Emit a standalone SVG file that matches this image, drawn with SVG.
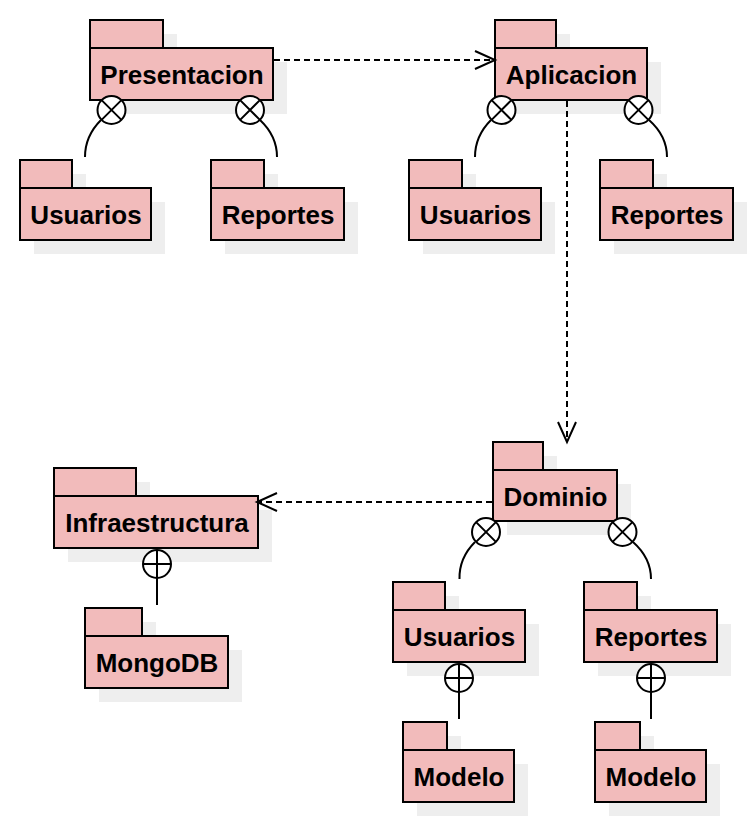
<svg xmlns="http://www.w3.org/2000/svg" width="754" height="822" viewBox="0 0 754 822">
<style>
.sh{fill:#eeeeee;stroke:none}
.pk{fill:#f2bbbb;stroke:#000;stroke-width:2}
.lb{font-family:"Liberation Sans",Arial,sans-serif;font-weight:bold;font-size:26px;text-anchor:middle;fill:#000}
.dep{fill:none;stroke:#000;stroke-width:2;stroke-dasharray:6 4}
.ln{fill:none;stroke:#000;stroke-width:2}
.cir{fill:#fff;stroke:#000;stroke-width:2}
</style>
<defs>
<marker id="open" markerUnits="userSpaceOnUse" markerWidth="24" markerHeight="20" refX="20" refY="9" orient="auto" overflow="visible">
<path d="M0,0 L20,9 L0,18" fill="none" stroke="#000" stroke-width="2"/>
</marker>
</defs>
<rect width="754" height="822" fill="#fff"/>

<g id="presentacion">
<rect class="sh" x="104" y="34" width="73" height="28"/><rect class="sh" x="104" y="62" width="183" height="52"/>
<rect class="pk" x="90" y="20" width="73" height="28"/><rect class="pk" x="90" y="48" width="183" height="52"/>
<text class="lb" x="182" y="84">Presentacion</text>
</g>
<g id="p-usuarios">
<rect class="sh" x="34" y="174" width="52" height="28"/><rect class="sh" x="34" y="202" width="131" height="52"/>
<rect class="pk" x="20" y="160" width="52" height="28"/><rect class="pk" x="20" y="188" width="131" height="52"/>
<text class="lb" x="86" y="224">Usuarios</text>
</g>
<g id="p-reportes">
<rect class="sh" x="225" y="174" width="53" height="28"/><rect class="sh" x="225" y="202" width="133" height="52"/>
<rect class="pk" x="211" y="160" width="53" height="28"/><rect class="pk" x="211" y="188" width="133" height="52"/>
<text class="lb" x="278" y="224">Reportes</text>
</g>
<g id="aplicacion">
<rect class="sh" x="509" y="34" width="61" height="28"/><rect class="sh" x="509" y="62" width="152" height="52"/>
<rect class="pk" x="495" y="20" width="61" height="28"/><rect class="pk" x="495" y="48" width="152" height="52"/>
<text class="lb" x="571.5" y="84">Aplicacion</text>
</g>
<g id="a-usuarios">
<rect class="sh" x="423" y="174" width="53" height="28"/><rect class="sh" x="423" y="202" width="132" height="52"/>
<rect class="pk" x="409" y="160" width="53" height="28"/><rect class="pk" x="409" y="188" width="132" height="52"/>
<text class="lb" x="475.5" y="224">Usuarios</text>
</g>
<g id="a-reportes">
<rect class="sh" x="614" y="174" width="53" height="28"/><rect class="sh" x="614" y="202" width="133" height="52"/>
<rect class="pk" x="600" y="160" width="53" height="28"/><rect class="pk" x="600" y="188" width="133" height="52"/>
<text class="lb" x="667" y="224">Reportes</text>
</g>
<g id="dominio">
<rect class="sh" x="507" y="456" width="50" height="28"/><rect class="sh" x="507" y="484" width="124" height="51"/>
<rect class="pk" x="493" y="442" width="50" height="28"/><rect class="pk" x="493" y="470" width="124" height="51"/>
<text class="lb" x="555.5" y="506">Dominio</text>
</g>
<g id="d-usuarios">
<rect class="sh" x="407" y="596" width="52" height="28"/><rect class="sh" x="407" y="624" width="132" height="52"/>
<rect class="pk" x="393" y="582" width="52" height="28"/><rect class="pk" x="393" y="610" width="132" height="52"/>
<text class="lb" x="459.5" y="646">Usuarios</text>
</g>
<g id="d-reportes">
<rect class="sh" x="598" y="596" width="53" height="28"/><rect class="sh" x="598" y="624" width="133" height="52"/>
<rect class="pk" x="584" y="582" width="53" height="28"/><rect class="pk" x="584" y="610" width="133" height="52"/>
<text class="lb" x="651" y="646">Reportes</text>
</g>
<g id="du-modelo">
<rect class="sh" x="417" y="736" width="44" height="28"/><rect class="sh" x="417" y="764" width="111" height="52"/>
<rect class="pk" x="403" y="722" width="44" height="28"/><rect class="pk" x="403" y="750" width="111" height="52"/>
<text class="lb" x="459" y="786">Modelo</text>
</g>
<g id="dr-modelo">
<rect class="sh" x="609" y="736" width="45" height="28"/><rect class="sh" x="609" y="764" width="111" height="52"/>
<rect class="pk" x="595" y="722" width="45" height="28"/><rect class="pk" x="595" y="750" width="111" height="52"/>
<text class="lb" x="651" y="786">Modelo</text>
</g>
<g id="infraestructura">
<rect class="sh" x="68" y="482" width="82" height="28"/><rect class="sh" x="68" y="510" width="204" height="52"/>
<rect class="pk" x="54" y="468" width="82" height="28"/><rect class="pk" x="54" y="496" width="204" height="52"/>
<text class="lb" x="157" y="532">Infraestructura</text>
</g>
<g id="mongodb">
<rect class="sh" x="99" y="622" width="57" height="28"/><rect class="sh" x="99" y="650" width="143" height="52"/>
<rect class="pk" x="85" y="608" width="57" height="28"/><rect class="pk" x="85" y="636" width="143" height="52"/>
<text class="lb" x="157" y="672">MongoDB</text>
</g>

<g id="connectors">
<line class="dep" x1="274" y1="60" x2="495" y2="60" marker-end="url(#open)"/>
<line class="dep" x1="567" y1="101" x2="567" y2="442" marker-end="url(#open)"/>
<line class="dep" x1="492" y1="502" x2="257" y2="502" marker-end="url(#open)"/>

<path class="ln" d="M101,120 Q85,136 85,157"/>
<circle class="cir" cx="111.5" cy="110" r="14"/><path class="ln" d="M101.6,100.1 L121.4,119.9 M121.4,100.1 L101.6,119.9"/>
<path class="ln" d="M260,120 Q277,136 277,157"/>
<circle class="cir" cx="250" cy="110" r="14"/><path class="ln" d="M240.1,100.1 L259.9,119.9 M259.9,100.1 L240.1,119.9"/>

<path class="ln" d="M491,120 Q475,136 475,157"/>
<circle class="cir" cx="501.5" cy="110" r="14"/><path class="ln" d="M491.6,100.1 L511.4,119.9 M511.4,100.1 L491.6,119.9"/>
<path class="ln" d="M649,120 Q667,136 667,157"/>
<circle class="cir" cx="638.5" cy="110" r="14"/><path class="ln" d="M628.6,100.1 L648.4,119.9 M648.4,100.1 L628.6,119.9"/>

<path class="ln" d="M475,542 Q459,558 459.5,579"/>
<circle class="cir" cx="486" cy="532" r="14"/><path class="ln" d="M476.1,522.1 L495.9,541.9 M495.9,522.1 L476.1,541.9"/>
<path class="ln" d="M633,542 Q651,558 651,579"/>
<circle class="cir" cx="622.5" cy="532" r="14"/><path class="ln" d="M612.6,522.1 L632.4,541.9 M632.4,522.1 L612.6,541.9"/>

<line class="ln" x1="459" y1="692" x2="459" y2="719"/>
<circle class="cir" cx="459" cy="678" r="14"/><path class="ln" d="M445,678 L473,678 M459,664 L459,692"/>
<line class="ln" x1="651" y1="692" x2="651" y2="719"/>
<circle class="cir" cx="651" cy="678" r="14"/><path class="ln" d="M637,678 L665,678 M651,664 L651,692"/>
<line class="ln" x1="157" y1="578" x2="157" y2="605"/>
<circle class="cir" cx="157" cy="564" r="14"/><path class="ln" d="M143,564 L171,564 M157,550 L157,578"/>
</g>
</svg>
